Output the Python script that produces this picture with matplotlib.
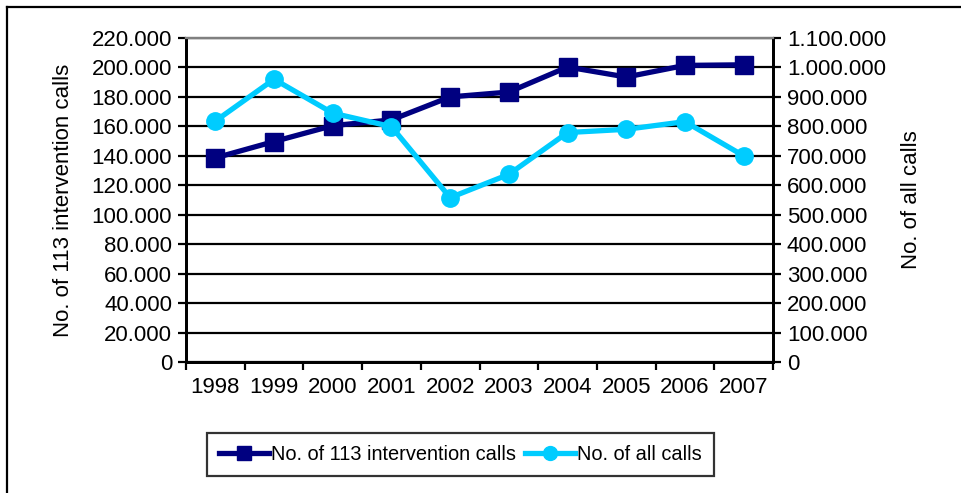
import matplotlib
matplotlib.use("Agg")
import matplotlib.pyplot as plt
from matplotlib.ticker import FuncFormatter, FixedLocator
from matplotlib.lines import Line2D

# dati
years = ["1998", "1999", "2000", "2001", "2002", "2003", "2004", "2005", "2006", "2007"]
calls_113 = [138600, 149700, 160500, 164400, 180000, 183300, 200300, 193500, 201400, 201800]
all_calls = [818000, 960000, 845000, 799000, 558000, 637000, 779000, 790000, 816000, 700000]

label_113 = "No. of 113 intervention calls"
label_all = "No. of all calls"

plt.rcParams["font.family"] = ["Liberation Sans", "DejaVu Sans"]
fs = 16

fig = plt.figure(figsize=(9.61, 4.93), dpi=100)
ax = fig.add_axes([186 / 961, 1 - 362 / 493, 587 / 961, 324 / 493])
ax2 = ax.twinx()

x = list(range(len(years)))

def dot_thousands(v, pos):
    return f"{int(round(v)):,}".replace(",", ".")

# asse sinistro
ax.set_xlim(-0.5, len(years) - 0.5)
ax.set_ylim(0, 220000)
ax.set_yticks(range(0, 220001, 20000))
ax.yaxis.set_major_formatter(FuncFormatter(dot_thousands))
ax.grid(axis="y", color="black", linewidth=1.6)
ax.set_axisbelow(True)

ax.xaxis.set_major_locator(FixedLocator([i - 0.5 for i in range(len(years) + 1)]))
ax.xaxis.set_minor_locator(FixedLocator(x))
ax.set_xticklabels([], minor=False)
ax.set_xticklabels(years, minor=True)
ax.tick_params(axis="x", which="major", direction="out", length=6, width=1.6)
ax.tick_params(axis="x", which="minor", length=0, pad=11, labelsize=fs)
ax.tick_params(axis="y", direction="out", length=6, width=1.6, labelsize=fs, pad=4)

# asse destro
ax2.set_ylim(0, 1100000)
ax2.set_yticks(range(0, 1100001, 100000))
ax2.yaxis.set_major_formatter(FuncFormatter(dot_thousands))
ax2.tick_params(axis="y", direction="out", length=6, width=1.6, labelsize=fs, pad=4)

for a in (ax, ax2):
    a.spines["left"].set_linewidth(2)
    a.spines["right"].set_linewidth(2)
    a.spines["bottom"].set_linewidth(2)
    a.spines["top"].set_color("#808080")
    a.spines["top"].set_linewidth(1.6)

# serie
l1, = ax.plot(x, calls_113, color="#000080", linewidth=3.8, marker="s",
              markersize=12.5, label=label_113, zorder=3)
l2, = ax2.plot(x, all_calls, color="#00CCFF", linewidth=3.8, marker="o",
               markersize=12.5, label=label_all, zorder=3)

ax.set_ylabel(label_113, fontsize=fs)
ax.yaxis.set_label_coords(-0.191, 0.5)
ax2.set_ylabel(label_all, fontsize=fs, rotation=90)
ax2.yaxis.set_label_coords(1.218, 0.5)

leg = fig.legend(handles=[l1, l2], loc="center", bbox_to_anchor=(0.479, 0.079),
                 ncol=2, fontsize=14.4, frameon=True, fancybox=False,
                 edgecolor="black", handlelength=2.5, handletextpad=0.1,
                 columnspacing=0.45, borderpad=0.6, borderaxespad=0,
                 markerscale=0.8)
leg.get_frame().set_linewidth(1.6)

# cornice del grafico (solo sinistra e alto visibili)
fig.add_artist(Line2D([7 / 961, 7 / 961], [-0.05, 1 - 7 / 493], color="black",
                      linewidth=1.6, transform=fig.transFigure))
fig.add_artist(Line2D([7 / 961, 1.05], [1 - 7 / 493, 1 - 7 / 493], color="black",
                      linewidth=1.6, transform=fig.transFigure))

plt.savefig("out.png", dpi=100)
plt.close()
